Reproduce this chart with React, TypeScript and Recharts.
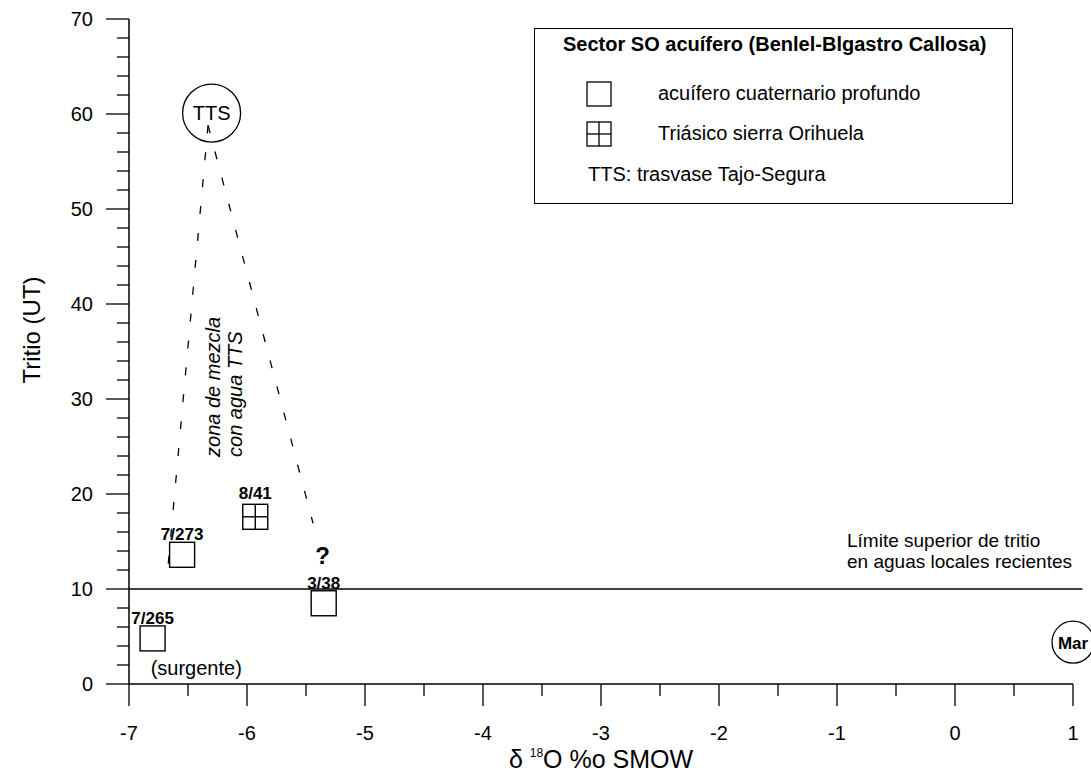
import React from "react";
import {
  ScatterChart,
  Scatter,
  XAxis,
  YAxis,
  ReferenceLine,
  ReferenceDot,
  Legend,
} from "recharts";

const FONT = '"Liberation Sans", Arial, Helvetica, sans-serif';

// axis ticks
const xTicks = [-7, -6.5, -6, -5.5, -5, -4.5, -4, -3.5, -3, -2.5, -2, -1.5, -1, -0.5, 0, 0.5, 1];
const yTicks = [
  0, 2, 4, 6, 8, 10, 12, 14, 16, 18, 20, 22, 24, 26, 28, 30, 32, 34, 36, 38, 40,
  42, 44, 46, 48, 50, 52, 54, 56, 58, 60, 62, 64, 66, 68, 70,
];

// acuifero cuaternario profundo
const cuatNames = ["7/265", "7/273", "3/38"];
const cuatO18 = [-6.8, -6.55, -5.35];
const cuatTritio = [4.8, 13.6, 8.5];

// Triasico sierra Orihuela
const triasNames = ["8/41"];
const triasO18 = [-5.93];
const triasTritio = [17.6];

// end members (TTS, sea water)
const endNames = ["TTS", "Mar"];
const endO18 = [-6.3, 1];
const endTritio = [60.1, 4.4];

// mixing zone limits (dashed)
const mixLeftO18 = [-6.33, -6.68];
const mixLeftTritio = [58.8, 10.9];
const mixRightO18 = [-6.33, -5.44];
const mixRightTritio = [58.8, 16.9];

// upper limit of tritium in recent local waters
const limitTritio = 10;
const limitO18 = [-7, 1.08];

const toPoints = (names: string[], xs: number[], ys: number[]) =>
  names.map((name, i) => ({ name, o18: xs[i], tritio: ys[i] }));

const cuatData = toPoints(cuatNames, cuatO18, cuatTritio);
const triasData = toPoints(triasNames, triasO18, triasTritio);
const endData = toPoints(endNames, endO18, endTritio);

const SQ = 25;

function SquareShape(props: any) {
  const { cx, cy, payload } = props;
  const h = SQ / 2;
  return (
    <g>
      <rect x={cx - h} y={cy - h} width={SQ} height={SQ} fill="#fff" stroke="#000" strokeWidth={1.4} />
      <text x={cx} y={cy - h - 2} textAnchor="middle" fontSize={17} fontWeight="bold" fontFamily={FONT}>
        {payload.name}
      </text>
    </g>
  );
}

function GridSquareShape(props: any) {
  const { cx, cy, payload } = props;
  const h = SQ / 2;
  return (
    <g>
      <rect x={cx - h} y={cy - h} width={SQ} height={SQ} fill="#fff" stroke="#000" strokeWidth={1.4} />
      <line x1={cx} x2={cx} y1={cy - h} y2={cy + h} stroke="#000" strokeWidth={1.4} />
      <line x1={cx - h} x2={cx + h} y1={cy} y2={cy} stroke="#000" strokeWidth={1.4} />
      <text x={cx} y={cy - h - 5} textAnchor="middle" fontSize={17} fontWeight="bold" fontFamily={FONT}>
        {payload.name}
      </text>
    </g>
  );
}

function CircleShape(props: any) {
  const { cx, cy, payload } = props;
  const big = payload.name === "TTS";
  return (
    <g>
      <circle cx={cx} cy={cy} r={big ? 29 : 21} fill="none" stroke="#000" strokeWidth={1.3} />
      <text
        x={cx}
        y={cy + 7}
        textAnchor="middle"
        fontSize={big ? 20 : 17}
        fontWeight={big ? "normal" : "bold"}
        fontFamily={FONT}
      >
        {payload.name}
      </text>
    </g>
  );
}

function YTick(props: any) {
  const { x, y, payload } = props;
  const major = payload.value % 10 === 0;
  return (
    <g>
      <line x1={x - (major ? 23 : 12)} x2={x} y1={y} y2={y} stroke="#000" strokeWidth={1.3} />
      {major && (
        <text x={x - 36} y={y + 7} textAnchor="end" fontSize={20} fontFamily={FONT} fill="#000">
          {payload.value}
        </text>
      )}
    </g>
  );
}

function XTick(props: any) {
  const { x, y, payload } = props;
  const major = Number.isInteger(payload.value);
  return (
    <g>
      <line x1={x} x2={x} y1={y} y2={y + (major ? 22 : 12)} stroke="#000" strokeWidth={1.3} />
      {major && (
        <text x={x} y={y + 56} textAnchor="middle" fontSize={20} fontFamily={FONT} fill="#000">
          {payload.value}
        </text>
      )}
    </g>
  );
}

function LegendBox() {
  const row = (top: number): React.CSSProperties => ({
    position: "absolute",
    top: top - 11,
    lineHeight: "22px",
    whiteSpace: "nowrap",
  });
  return (
    <div
      style={{
        position: "relative",
        width: 479,
        height: 176,
        border: "1.5px solid #000",
        boxSizing: "border-box",
        background: "#fff",
        fontFamily: FONT,
        fontSize: 20,
        color: "#000",
      }}
    >
      <div style={{ ...row(15), left: 28, fontWeight: "bold" }}>
        Sector SO acuífero (Benlel-Blgastro Callosa)
      </div>
      <svg style={{ position: "absolute", left: 51, top: 52 }} width={26} height={26}>
        <rect x={1} y={1} width={24} height={24} fill="#fff" stroke="#000" strokeWidth={1.3} />
      </svg>
      <div style={{ ...row(64), left: 123 }}>acuífero cuaternario profundo</div>
      <svg style={{ position: "absolute", left: 51, top: 92 }} width={26} height={26}>
        <rect x={1} y={1} width={24} height={24} fill="#fff" stroke="#000" strokeWidth={1.3} />
        <line x1={13} x2={13} y1={1} y2={25} stroke="#000" strokeWidth={1.3} />
        <line x1={1} x2={25} y1={13} y2={13} stroke="#000" strokeWidth={1.3} />
      </svg>
      <div style={{ ...row(104), left: 123 }}>Triásico sierra Orihuela</div>
      <div style={{ ...row(145), left: 53 }}>TTS: trasvase Tajo-Segura</div>
    </div>
  );
}

export default function App() {
  return (
    <div style={{ position: "absolute", left: 0, top: 0, background: "#fff" }}>
      <ScatterChart
        width={1091}
        height={775}
        margin={{ top: 19, right: 18, left: 0, bottom: 0 }}
        style={{ fontFamily: FONT }}
      >
        <XAxis
          type="number"
          dataKey="o18"
          domain={[-7, 1]}
          ticks={xTicks}
          interval={0}
          height={91}
          tickSize={0}
          tickMargin={0}
          tickLine={false}
          tick={XTick}
          axisLine={{ stroke: "#000", strokeWidth: 1.5 }}
          label={(p: any) => {
            const vb = p.viewBox;
            const cx = vb.x + vb.width / 2;
            return (
              <text x={cx} y={vb.y + 84} textAnchor="middle" fontSize={25} fontFamily={FONT} fill="#000">
                δ{" "}
                <tspan fontSize={12} dy={-11}>
                  18
                </tspan>
                <tspan dy={11}>O %o SMOW</tspan>
              </text>
            );
          }}
        />
        <YAxis
          type="number"
          dataKey="tritio"
          domain={[0, 70]}
          ticks={yTicks}
          interval={0}
          width={129}
          tickSize={0}
          tickMargin={0}
          tickLine={false}
          tick={YTick}
          axisLine={{ stroke: "#000", strokeWidth: 1.5 }}
          label={(p: any) => {
            const vb = p.viewBox;
            return (
              <text
                transform={`translate(${vb.x + 40}, ${vb.y + 311}) rotate(-90)`}
                textAnchor="middle"
                fontSize={24}
                fontFamily={FONT}
                fill="#000"
              >
                Tritio (UT)
              </text>
            );
          }}
        />
        <ReferenceLine
          segment={[
            { x: limitO18[0], y: limitTritio },
            { x: limitO18[1], y: limitTritio },
          ]}
          stroke="#000"
          strokeWidth={1.4}
          ifOverflow="visible"
        />
        <ReferenceLine
          segment={[
            { x: mixLeftO18[0], y: mixLeftTritio[0] },
            { x: mixLeftO18[1], y: mixLeftTritio[1] },
          ]}
          stroke="#000"
          strokeWidth={1.3}
          strokeDasharray="8 19"
          ifOverflow="visible"
        />
        <ReferenceLine
          segment={[
            { x: mixRightO18[0], y: mixRightTritio[0] },
            { x: mixRightO18[1], y: mixRightTritio[1] },
          ]}
          stroke="#000"
          strokeWidth={1.3}
          strokeDasharray="8 19"
          ifOverflow="visible"
        />
        <Scatter data={endData} isAnimationActive={false} shape={CircleShape} />
        <Scatter name="acuífero cuaternario profundo" data={cuatData} isAnimationActive={false} shape={SquareShape} />
        <Scatter name="Triásico sierra Orihuela" data={triasData} isAnimationActive={false} shape={GridSquareShape} />
        <ReferenceDot
          x={-5.36}
          y={13.6}
          ifOverflow="visible"
          shape={(p: any) => (
            <text x={p.cx} y={p.cy + 9} textAnchor="middle" fontSize={24} fontWeight="bold" fontFamily={FONT}>
              ?
            </text>
          )}
        />
        <ReferenceDot
          x={-6.43}
          y={1.7}
          ifOverflow="visible"
          shape={(p: any) => (
            <text x={p.cx} y={p.cy + 7} textAnchor="middle" fontSize={20} fontFamily={FONT}>
              (surgente)
            </text>
          )}
        />
        <ReferenceDot
          x={-6.23}
          y={23.9}
          ifOverflow="visible"
          shape={(p: any) => (
            <g transform={`translate(${p.cx}, ${p.cy}) rotate(-90)`}>
              <text x={0} y={0} fontSize={20} fontStyle="italic" fontFamily={FONT}>
                zona de mezcla
              </text>
              <text x={0} y={22} fontSize={20} fontStyle="italic" fontFamily={FONT}>
                con agua TTS
              </text>
            </g>
          )}
        />
        <ReferenceDot
          x={-0.915}
          y={15.05}
          ifOverflow="visible"
          shape={(p: any) => (
            <g>
              <text x={p.cx} y={p.cy + 6} fontSize={19} fontFamily={FONT}>
                Límite superior de tritio
              </text>
              <text x={p.cx} y={p.cy + 27} fontSize={19} fontFamily={FONT}>
                en aguas locales recientes
              </text>
            </g>
          )}
        />
        <Legend
          layout="vertical"
          align="center"
          verticalAlign="middle"
          wrapperStyle={{ left: 534, top: 28, width: 479, height: 176 }}
          content={LegendBox}
        />
      </ScatterChart>
    </div>
  );
}
